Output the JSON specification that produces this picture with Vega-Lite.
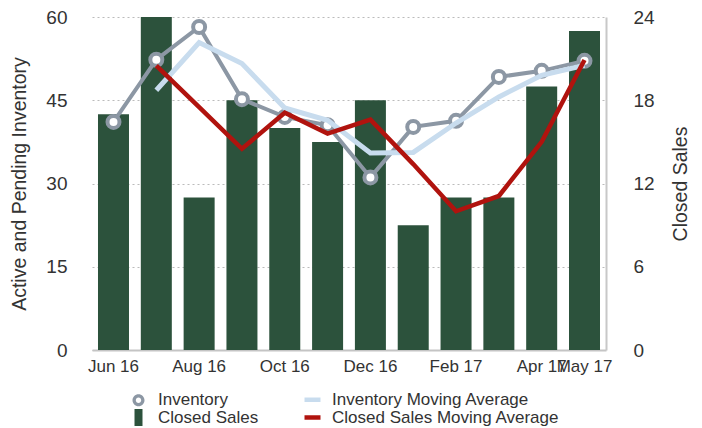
{
  "$schema": "https://vega.github.io/schema/vega-lite/v6.json",
  "width": 514,
  "height": 333,
  "autosize": {"type": "none"},
  "padding": {"left": 92, "top": 17, "right": 96, "bottom": 78},
  "config": {
    "view": {"stroke": null},
    "font": "Liberation Sans",
    "axis": {"labelColor": "#333333", "titleColor": "#333333", "titleFontWeight": "normal", "ticks": false}
  },
  "data": {
    "values": [
      {"month": "Jun 16", "inventory": 41.1, "sales": 17, "invMA": null, "salesMA": null},
      {"month": "Jul 16", "inventory": 52.3, "sales": 24, "invMA": 46.8, "salesMA": 20.5},
      {"month": "Aug 16", "inventory": 58.2, "sales": 11, "invMA": 55.4, "salesMA": 17.5},
      {"month": "Sep 16", "inventory": 45.2, "sales": 18, "invMA": 51.6, "salesMA": 14.5},
      {"month": "Oct 16", "inventory": 42.0, "sales": 16, "invMA": 43.6, "salesMA": 17.1},
      {"month": "Nov 16", "inventory": 40.5, "sales": 15, "invMA": 41.4, "salesMA": 15.6},
      {"month": "Dec 16", "inventory": 31.1, "sales": 18, "invMA": 35.5, "salesMA": 16.6},
      {"month": "Jan 17", "inventory": 40.2, "sales": 9, "invMA": 35.6, "salesMA": 13.4},
      {"month": "Feb 17", "inventory": 41.3, "sales": 11, "invMA": 40.9, "salesMA": 10.0},
      {"month": "Mar 17", "inventory": 49.2, "sales": 11, "invMA": 45.6, "salesMA": 11.1},
      {"month": "Apr 17", "inventory": 50.3, "sales": 19, "invMA": 49.5, "salesMA": 15.0},
      {"month": "May 17", "inventory": 52.1, "sales": 23, "invMA": 51.3, "salesMA": 20.9}
    ]
  },
  "encoding": {
    "x": {
      "field": "month",
      "type": "ordinal",
      "sort": null,
      "scale": {"paddingInner": 0.276, "paddingOuter": 0.14},
      "axis": {
        "title": null,
        "labelAngle": 0,
        "values": ["Jun 16", "Aug 16", "Oct 16", "Dec 16", "Feb 17", "Apr 17", "May 17"],
        "labelOverlap": false,
        "domainColor": "#c4c4c4",
        "domainWidth": 2,
        "labelFontSize": 17,
        "labelPadding": 8,
        "grid": false
      }
    }
  },
  "layer": [
    {
      "mark": {"type": "bar"},
      "encoding": {
        "y": {
          "field": "sales",
          "type": "quantitative",
          "scale": {"domain": [0, 24], "nice": false},
          "axis": {
            "orient": "right",
            "title": "Closed Sales",
            "values": [0, 6, 12, 18, 24],
            "grid": false,
            "domain": true,
            "domainColor": "#c8c8c8",
            "domainWidth": 2,
            "labelPadding": 27,
            "labelFontSize": 19,
            "titleFontSize": 19.5,
            "titleAngle": 270,
            "titlePadding": 36
          }
        },
        "color": {"datum": "Closed Sales"}
      }
    },
    {
      "mark": {"type": "line", "strokeWidth": 4, "point": {"filled": false, "fill": "#ffffff", "size": 144, "strokeWidth": 4, "opacity": 1}},
      "encoding": {
        "y": {
          "field": "inventory",
          "type": "quantitative",
          "scale": {"domain": [0, 60], "nice": false},
          "axis": {
            "orient": "left",
            "title": "Active and Pending Inventory",
            "values": [0, 15, 30, 45, 60],
            "grid": true,
            "gridDash": [2, 3],
            "gridColor": "#bbbbbb",
            "domain": false,
            "labelPadding": 25,
            "labelFontSize": 19,
            "titleFontSize": 19.5,
            "titlePadding": 16
          }
        },
        "color": {
          "datum": "Inventory",
          "scale": {
            "domain": ["Inventory", "Inventory Moving Average", "Closed Sales", "Closed Sales Moving Average"],
            "range": ["#8c97a4", "#c8dcee", "#2c523c", "#b0130e"]
          },
          "legend": {
            "title": null,
            "orient": "none",
            "legendX": 38,
            "legendY": 374,
            "direction": "horizontal",
            "columns": 2,
            "columnPadding": 36,
            "rowPadding": -4,
            "padding": 0,
            "labelFontSize": 17,
            "labelColor": "#333333",
            "labelOffset": 11,
            "labelLimit": 400,
            "symbolSize": 256,
            "encode": {
              "symbols": {
                "update": {
                  "shape": {"signal": "datum.value === 'Inventory' ? 'M-1,0A1,1 0 1,0 1,0A1,1 0 1,0 -1,0ZM-0.45,0A0.45,0.45 0 1,1 0.45,0A0.45,0.45 0 1,1 -0.45,0Z' : datum.value === 'Closed Sales' ? 'M-0.47,-1L0.47,-1L0.47,1L-0.47,1Z' : 'stroke'"},
                  "size": {"signal": "datum.value === 'Inventory' ? 144 : datum.value === 'Closed Sales' ? 289 : 256"},
                  "fill": {"signal": "datum.value === 'Inventory' ? '#8c97a4' : datum.value === 'Closed Sales' ? '#2c523c' : 'transparent'"},
                  "fillOpacity": {"value": 1},
                  "stroke": {"signal": "datum.value === 'Inventory Moving Average' ? '#c8dcee' : datum.value === 'Closed Sales Moving Average' ? '#b0130e' : 'transparent'"},
                  "strokeWidth": {"signal": "datum.value === 'Inventory' ? 0 : datum.value === 'Closed Sales' ? 0 : 4.5"},
                  "opacity": {"value": 1}
                }
              }
            }
          }
        }
      }
    },
    {
      "mark": {"type": "line", "strokeWidth": 5},
      "encoding": {
        "y": {"field": "invMA", "type": "quantitative", "scale": {"domain": [0, 60], "nice": false}, "axis": null},
        "color": {"datum": "Inventory Moving Average"}
      }
    },
    {
      "mark": {"type": "line", "strokeWidth": 4.5},
      "encoding": {
        "y": {"field": "salesMA", "type": "quantitative", "scale": {"domain": [0, 24], "nice": false}, "axis": null},
        "color": {"datum": "Closed Sales Moving Average"}
      }
    }
  ],
  "resolve": {"scale": {"y": "independent"}}
}
